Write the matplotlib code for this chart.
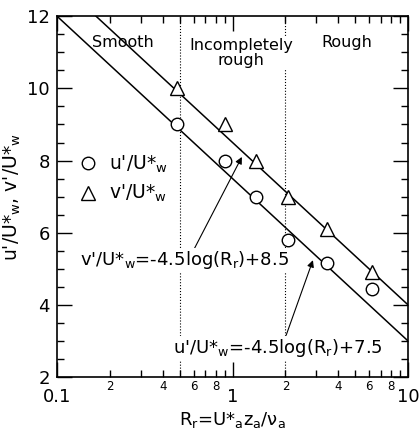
import numpy as np
import matplotlib
matplotlib.use("Agg")
import matplotlib.pyplot as plt
from matplotlib.ticker import LogLocator, FuncFormatter, MultipleLocator

plt.rcParams['font.family'] = ['DejaVu Sans']
plt.rcParams['mathtext.fontset'] = 'dejavusans'

# data
rr = [0.48, 0.9, 1.36, 2.07, 3.45, 6.24]
u_ratio = [9.0, 8.0, 7.0, 5.8, 5.15, 4.45]
v_ratio = [10.0, 9.0, 8.0, 7.0, 6.1, 4.9]
# fitted lines: y = slope*log10(Rr) + intercept
slope = -4.5
u_intercept = 7.5
v_intercept = 8.5
regime_edges = [0.5, 2.0]

fig = plt.figure(figsize=(4.19, 4.37), dpi=100)
ax = fig.add_axes([0.136, 0.137, 0.838, 0.826])

xline = np.logspace(-1, 1, 200)
ax.plot(xline, slope * np.log10(xline) + v_intercept, color='k', lw=1.1)
ax.plot(xline, slope * np.log10(xline) + u_intercept, color='k', lw=1.1)

ax.plot(rr, u_ratio, 'o', mfc='white', mec='k', ms=9, mew=1.0, ls='none',
        label="u'/U*$_\\mathregular{w}$", zorder=3)
ax.plot(rr, v_ratio, '^', mfc='white', mec='k', ms=9.5, mew=1.0, ls='none',
        label="v'/U*$_\\mathregular{w}$", zorder=3)

for edge in regime_edges:
    ax.axvline(edge, color='k', ls=':', lw=0.8, zorder=1)

ax.set_xscale('log')
ax.set_xlim(0.1, 10)
ax.set_ylim(2, 12)

# region labels
ax.text(0.237, 11.28, 'Smooth', ha='center', va='center', fontsize=11.5)
ax.text(1.12, 10.98, 'Incompletely\nrough', ha='center', va='center', fontsize=11.5,
        linespacing=1.05, bbox=dict(fc='white', ec='none', pad=1), zorder=2)
ax.text(4.49, 11.28, 'Rough', ha='center', va='center', fontsize=11.5)

# equation labels with arrows
box = dict(fc='white', ec='none', pad=1)
arrow = dict(arrowstyle='-|>', color='k', lw=0.8, mutation_scale=10,
             shrinkA=0, shrinkB=0)
ax.annotate('', xy=(1.13, 8.1), xytext=(0.6, 5.52), arrowprops=arrow)
ax.text(0.536, 5.24, "v'/U*$_\\mathregular{w}$=-4.5log(R$_\\mathregular{r}$)+8.5",
        ha='center', va='center', fontsize=13, bbox=box, zorder=4)
ax.annotate('', xy=(2.87, 5.24), xytext=(2.02, 3.16), arrowprops=arrow)
ax.text(1.82, 2.80, "u'/U*$_\\mathregular{w}$=-4.5log(R$_\\mathregular{r}$)+7.5",
        ha='center', va='center', fontsize=13, bbox=box, zorder=4)

ax.legend(loc='upper left', bbox_to_anchor=(0.063, 0.62), frameon=False,
          fontsize=13.5, handlelength=1.0, handletextpad=0.6, borderpad=0,
          borderaxespad=0, labelspacing=0.45)

# ticks
ax.xaxis.set_major_locator(LogLocator(base=10, numticks=5))
ax.xaxis.set_minor_locator(LogLocator(base=10, subs=np.arange(2, 10), numticks=20))
ax.xaxis.set_major_formatter(FuncFormatter(lambda v, p: '%g' % v))


def minor_fmt(v, p):
    m = v / 10 ** np.floor(np.log10(v) + 1e-9)
    k = int(round(m))
    return str(k) if k in (2, 4, 6, 8) else ''


ax.xaxis.set_minor_formatter(FuncFormatter(minor_fmt))
ax.yaxis.set_major_locator(MultipleLocator(2))
ax.yaxis.set_minor_locator(MultipleLocator(0.5))

ax.tick_params(which='both', direction='in', top=True, right=True, width=1.0)
ax.tick_params(which='major', length=11, labelsize=13)
ax.tick_params(axis='y', which='major', pad=5)
ax.tick_params(axis='x', which='major', pad=8)
ax.tick_params(axis='x', which='minor', length=5, labelsize=8.5, pad=2)
ax.tick_params(axis='y', which='minor', length=5)
for s in ax.spines.values():
    s.set_linewidth(1.2)

ax.set_xlabel("R$_\\mathregular{r}$=U*$_\\mathregular{a}$z$_\\mathregular{a}$/\u03bd$_\\mathregular{a}$",
              fontsize=13, labelpad=3)
ax.set_ylabel("u'/U*$_\\mathregular{w}$, v'/U*$_\\mathregular{w}$", fontsize=13.5)
ax.yaxis.set_label_coords(-0.097, 0.5)

fig.savefig('out.png', dpi=100)
